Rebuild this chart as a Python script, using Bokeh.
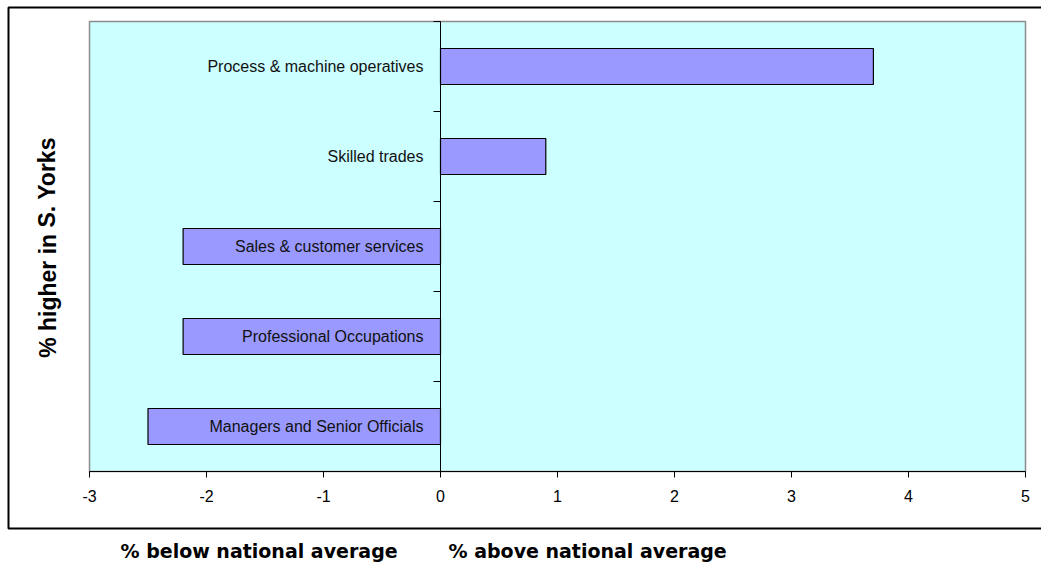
from bokeh.plotting import figure
from bokeh.models import FixedTicker, Label, PrintfTickFormatter
from bokeh.core.properties import value
from bokeh.embed import file_html
from bokeh.resources import INLINE

# Occupations, listed bottom to top
occupations = [
    "Managers and Senior Officials",
    "Professional Occupations",
    "Sales & customer services",
    "Skilled trades",
    "Process & machine operatives",
]
# Difference from the national average, percentage points
difference = [-2.5, -2.2, -2.2, 0.9, 3.7]
x_ticks = [-3, -2, -1, 0, 1, 2, 3, 4, 5]

positions = [i + 0.5 for i in range(len(occupations))]
x_lo, x_hi = x_ticks[0], x_ticks[-1]
n_cat = len(occupations)

W, H = 1041, 563
# pixel placement of the plotting area inside the canvas
left_px, right_px, top_px, bottom_px = 89, 1025, 21, 471
sx = (right_px - left_px) / (x_hi - x_lo)
sy = (bottom_px - top_px) / n_cat
x_start = x_lo - left_px / sx
x_end = x_start + W / sx
y_end = n_cat + top_px / sy
y_start = y_end - H / sy

p = figure(
    width=W, height=H,
    x_range=(x_start, x_end), y_range=(y_start, y_end),
    output_backend="svg", toolbar_location=None,
    min_border=0,
)
p.background_fill_color = "white"
p.border_fill_color = "white"
p.outline_line_color = None
p.xgrid.visible = False
p.ygrid.visible = False

# Outer chart frame (right side runs past the page edge)
p.quad(left=x_start + 8 / sx, right=x_end + 1, top=y_end - 7 / sy,
       bottom=y_end - 528 / sy,
       fill_color=None, line_color="black", line_width=2)

# Plot area
p.quad(left=x_lo, right=x_hi, bottom=0, top=n_cat,
       fill_color="#CCFFFF", line_color="#8c8c8c", line_width=1.5)

# Horizontal value axis along the bottom of the plot area
xa = p.xaxis[0]
xa.fixed_location = 0
xa.bounds = (x_lo, x_hi)
xa.ticker = FixedTicker(ticks=x_ticks)
xa.formatter = PrintfTickFormatter(format="%d")
xa.axis_line_color = "black"
xa.axis_line_width = 1
xa.major_tick_in = 0
xa.major_tick_out = 6
xa.major_tick_line_color = "black"
xa.minor_tick_line_color = None
xa.major_label_standoff = 12
xa.major_label_text_font = "Liberation Sans"
xa.major_label_text_font_size = "16px"
xa.major_label_text_color = "black"

# Category axis sits on the zero line, ticks between the bars
ya = p.yaxis[0]
ya.fixed_location = 0
ya.bounds = (0, n_cat)
ya.ticker = FixedTicker(ticks=list(range(n_cat + 1)))
ya.axis_line_color = "black"
ya.axis_line_width = 1
ya.major_tick_in = 0
ya.major_tick_out = 7
ya.major_tick_line_color = "black"
ya.minor_tick_line_color = None
ya.major_label_text_color = None
ya.major_label_text_font_size = "0px"

p.hbar(y=positions, left=0, right=difference, height=0.4,
       fill_color="#9999FF", line_color="black", line_width=1.2)

p.text(x=[0] * n_cat, y=positions, text=occupations,
       x_offset=-17, text_align="right", text_baseline="middle",
       text_font=value("Liberation Sans"), text_font_size="16px",
       text_color="#111111")

p.add_layout(Label(
    x=x_start + 47 / sx, y=y_end - 247 / sy, text="% higher in S. Yorks",
    angle=1.5708, text_align="center", text_baseline="middle",
    text_font="Liberation Sans", text_font_style="bold",
    text_font_size="23px", text_color="black",
))
p.add_layout(Label(
    x=x_start + 120 / sx, y=y_end - 550 / sy, text="% below national average",
    text_align="left", text_baseline="middle",
    text_font="DejaVu Sans", text_font_style="bold",
    text_font_size="19px", text_color="black",
))
p.add_layout(Label(
    x=x_start + 448 / sx, y=y_end - 550 / sy, text="% above national average",
    text_align="left", text_baseline="middle",
    text_font="DejaVu Sans", text_font_style="bold",
    text_font_size="19px", text_color="black",
))

open("out.html", "w").write(file_html(p, INLINE))
